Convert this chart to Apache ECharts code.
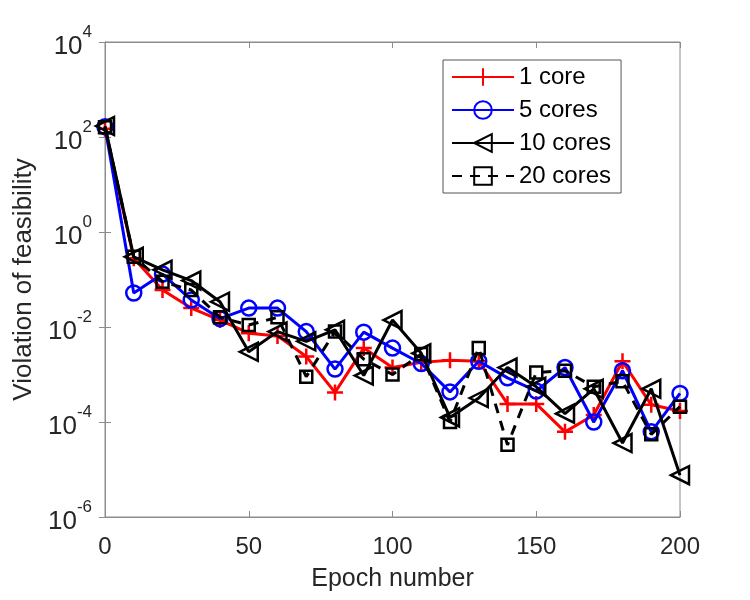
<!DOCTYPE html>
<html>
<head>
<meta charset="utf-8">
<script src="https://cdn.jsdelivr.net/npm/echarts@6/dist/echarts.min.js"></script>
<style>
  html, body { margin: 0; padding: 0; background: #fff; }
  #chart { width: 750px; height: 600px; }
</style>
</head>
<body>
<div id="chart"></div>
<script>
const epochs = [0, 10, 20, 30, 40, 50, 60, 70, 80, 90, 100, 110, 120, 130, 140, 150, 160, 170, 180, 190, 200];
const seriesNames = ['1 core', '5 cores', '10 cores', '20 cores'];
const core1 = [150, 0.28, 0.06, 0.025, 0.014, 0.0074, 0.0065, 0.0024, 0.00042, 0.0036, 0.0014, 0.0018, 0.002, 0.0019, 0.00024, 0.00024, 0.000062, 0.00014, 0.0019, 0.00023, 0.00017];
const core5 = [165, 0.052, 0.13, 0.037, 0.015, 0.025, 0.025, 0.008, 0.0013, 0.0078, 0.0036, 0.0017, 0.00043, 0.0019, 0.00085, 0.00045, 0.0014, 0.0001, 0.0012, 0.000062, 0.0004];
const core10 = [170, 0.3, 0.16, 0.095, 0.034, 0.003, 0.008, 0.005, 0.0087, 0.00095, 0.014, 0.0028, 0.000125, 0.00032, 0.0014, 0.00055, 0.00015, 0.0005, 0.000036, 0.0005, 0.0000076];
const core20 = [160, 0.3, 0.09, 0.06, 0.016, 0.011, 0.016, 0.0009, 0.008, 0.0021, 0.001, 0.0027, 0.0001, 0.0036, 0.000033, 0.0011, 0.0012, 0.00055, 0.00072, 0.000055, 0.00021];

const font = 'Liberation Sans, Arial, Helvetica, sans-serif';
const textColor = '#262626';
const axisColor = '#8c8c8c';
const plusPath = 'path://M0,5L10,5M5,0L5,10';

const pairs = (ys) => epochs.map((x, i) => [x, ys[i]]);

const makeSeries = (name, ys, color, symbol, size, opts = {}) => ({
  name,
  type: 'line',
  data: pairs(ys),
  symbol,
  symbolSize: size,
  symbolRotate: opts.rotate || 0,
  showAllSymbol: true,
  lineStyle: { color, width: 3, type: opts.dash || 'solid' },
  itemStyle: { color: 'rgba(0,0,0,0)', borderColor: color, borderWidth: 2.5 },
  emphasis: { disabled: true },
  z: opts.z || 2
});

const chart = echarts.init(document.getElementById('chart'));
chart.setOption({
  animation: false,
  grid: {
    left: 105, right: 70, top: 42, bottom: 83,
    show: true, borderColor: axisColor, borderWidth: 1, backgroundColor: '#fff'
  },
  legend: {
    orient: 'vertical',
    left: 443, top: 60,
    padding: [5, 10, 5, 8],
    itemWidth: 62, itemHeight: 22, itemGap: 9,
    borderColor: '#555', borderWidth: 1, backgroundColor: '#fff',
    data: seriesNames,
    textStyle: { fontFamily: font, fontSize: 24, color: '#000' }
  },
  xAxis: [
    {
      type: 'value', min: 0, max: 200, interval: 50,
      axisLine: { lineStyle: { color: axisColor } },
      axisTick: { inside: true, length: 6, lineStyle: { color: axisColor } },
      splitLine: { show: false },
      axisLabel: { fontFamily: font, fontSize: 24, color: textColor, margin: 18 },
      name: 'Epoch number', nameLocation: 'middle', nameGap: 50,
      nameTextStyle: { fontFamily: font, fontSize: 25, color: textColor }
    },
    {
      type: 'value', min: 0, max: 200, interval: 50, position: 'top',
      axisLine: { lineStyle: { color: axisColor } },
      axisTick: { inside: true, length: 6, lineStyle: { color: axisColor } },
      axisLabel: { show: false }, splitLine: { show: false }
    }
  ],
  yAxis: [
    {
      type: 'log', logBase: 10, min: 1e-6, max: 1e4, interval: 2,
      axisLine: { show: true, lineStyle: { color: axisColor } },
      axisTick: { show: true, inside: true, length: 6, lineStyle: { color: axisColor } },
      minorTick: { show: false },
      splitLine: { show: false },
      axisLabel: {
        margin: 13,
        formatter: (v) => '{b|10}{s|' + Math.round(Math.log10(v)) + '}',
        rich: {
          b: { fontFamily: font, fontSize: 26, color: textColor, padding: [10, 0, 0, 0] },
          s: { fontFamily: font, fontSize: 17, color: textColor, verticalAlign: 'top', padding: [0, 0, 12, 0] }
        }
      },
      name: 'Violation of feasibility', nameLocation: 'middle', nameGap: 62,
      nameTextStyle: { fontFamily: font, fontSize: 26, color: textColor }
    },
    {
      type: 'log', logBase: 10, min: 1e-6, max: 1e4, interval: 2, position: 'right',
      axisLine: { show: true, lineStyle: { color: axisColor } },
      axisTick: { show: true, inside: true, length: 6, lineStyle: { color: axisColor } },
      axisLabel: { show: false }, splitLine: { show: false }
    }
  ],
  series: [
    makeSeries('1 core', core1, '#ff0000', plusPath, 16, { z: 2 }),
    makeSeries('5 cores', core5, '#0000ff', 'circle', 15, { z: 3 }),
    makeSeries('10 cores', core10, '#000000', 'triangle', 18, { rotate: 90, z: 4 }),
    makeSeries('20 cores', core20, '#000000', 'rect', 12, { dash: [10, 8], z: 5 })
  ]
});
</script>
</body>
</html>
